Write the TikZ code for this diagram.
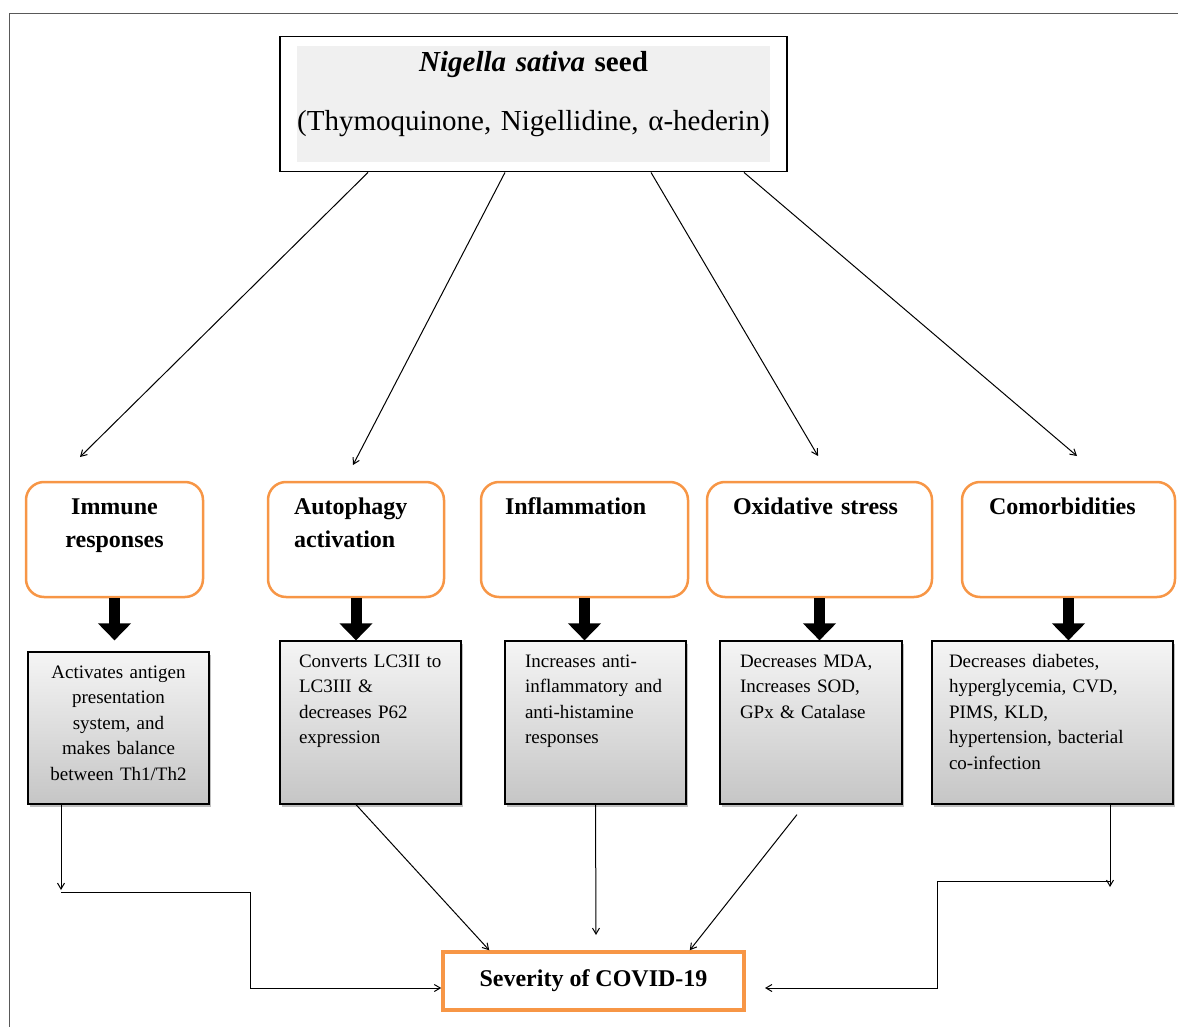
\documentclass[tikz,border=0pt]{standalone}
\usepackage{fontspec}
\setmainfont{Liberation Serif}
\usetikzlibrary{arrows.meta,shadows,fit}
\definecolor{boxorange}{RGB}{247,150,70}

\begin{document}
\begin{tikzpicture}[x=1pt,y=-1pt]
\tikzstyle{every node}=[inner sep=0pt]
\tikzstyle{target}=[draw=boxorange,line width=2.5pt,rounded corners=18pt,
	font=\bfseries\fontsize{24}{33}\selectfont,inner ysep=15pt,
	text height=17pt,text depth=68pt,align=left]
\tikzstyle{effect}=[draw,line width=1.2pt,top color=gray!8,bottom color=gray!45,
	drop shadow={shadow xshift=1.5pt,shadow yshift=-2.5pt},
	font=\fontsize{19}{25.5}\selectfont,inner ysep=12pt,text height=14pt,
	text depth=125pt,align=left]
\tikzstyle{link}=[line width=1pt,-{Straight Barb[length=6pt,width=7pt]}]
\tikzstyle{block}=[line width=11pt,-{Triangle[length=17pt,width=32pt]}]
\useasboundingbox (0,0) rectangle (1178,1027);
\draw[line width=1pt,gray!70!black] (9,1027) -- (9,14) -- (1178,14);

\node[fill=gray!12,text width=473pt,align=center,inner ysep=6pt,
	text height=20pt,text depth=84pt,font=\fontsize{29}{59}\selectfont]
	(seed) at (533.5,104) {\textbf{\textit{Nigella sativa} seed}\\
	(Thymoquinone, Nigellidine, α-hederin)};
\node[fit=(seed),inner xsep=17pt,inner ysep=9.5pt,draw,line width=1.5pt] (seedbox) {};

\node[target,inner xsep=10pt,text width=157pt,align=center] (imm) at (114.5,539.5)
	{Immune\\ responses};
\node[target,inner xsep=26pt,text width=124pt] (aut) at (356,539.5)
	{Autophagy\\ activation};
\node[target,inner xsep=24pt,text width=159pt] (inf) at (584.5,539.5)
	{Inflammation};
\node[target,inner xsep=26pt,text width=173pt] (oxi) at (819.5,539.5)
	{Oxidative stress};
\node[target,inner xsep=27pt,text width=159pt] (com) at (1068.5,539.5)
	{Comorbidities};

\node[effect,inner xsep=10pt,text width=161pt,text depth=114pt,align=center]
	(immeff) at (118.5,728) {Activates antigen\\ presentation\\ system, and\\
	makes balance\\ between Th1/Th2};
\node[effect,inner xsep=19pt,text width=143pt] (auteff) at (370.5,722.5)
	{Converts LC3II to\\ LC3III \&\\ decreases P62\\ expression};
\node[effect,inner xsep=20pt,text width=141pt] (infeff) at (595.5,722.5)
	{Increases anti-\\ inflammatory and\\ anti-histamine\\ responses};
\node[effect,inner xsep=20pt,text width=142pt] (oxieff) at (811,722.5)
	{Decreases MDA,\\ Increases SOD,\\ GPx \& Catalase};
\node[effect,inner xsep=17pt,text width=207pt] (comeff) at (1052.5,722.5)
	{Decreases diabetes,\\ hyperglycemia, CVD,\\ PIMS, KLD,\\
	hypertension, bacterial\\ co-infection};

\node[draw=boxorange,line width=3.5pt,minimum width=301pt,minimum height=58pt,
	font=\bfseries\fontsize{24}{29}\selectfont] (sev) at (593.5,981)
	{Severity of COVID-19};

\coordinate (immtip) at (80,457);
\coordinate (auttip) at (353,465);
\coordinate (oxitip) at (818,456);
\coordinate (comtip) at (1077,456);
\draw[link] ([xshift=-165.5pt]seedbox.south) -- (immtip);
\draw[link] ([xshift=-28.5pt]seedbox.south) -- (auttip);
\draw[link] ([xshift=117.5pt]seedbox.south) -- (oxitip);
\draw[link] ([xshift=210.5pt]seedbox.south) -- (comtip);

\draw[block,shorten >=11pt] (imm.south) -- (imm.south |- immeff.north);
\draw[block] (aut.south) -- (aut.south |- auteff.north);
\draw[block] (inf.south) -- (inf.south |- infeff.north);
\draw[block] (oxi.south) -- (oxi.south |- oxieff.north);
\draw[block] (com.south) -- (com.south |- comeff.north);

\coordinate (lefttip) at (61,890);
\coordinate (leftstart) at (61,892);
\coordinate (leftbend) at (250,988);
\coordinate (midtip) at (596,935);
\coordinate (righttip) at (1110,887);
\coordinate (rightstart) at (1110,881);
\coordinate (rightbend) at (937,988);
\coordinate (rightend) at (765,988);
\draw[link] ([xshift=-57.5pt]immeff.south) -- (lefttip);
\draw[link] (leftstart) -| (leftbend) -- ([yshift=-7pt]sev.west);
\draw[link] ([xshift=-14.5pt]auteff.south) -- ([xshift=48pt]sev.north west);
\draw[link] (infeff.south) -- (midtip);
\draw[link] ([xshift=-14pt,yshift=-10pt]oxieff.south) -- ([xshift=-56pt]sev.north east);
\draw[link] ([xshift=57.5pt]comeff.south) -- (righttip);
\draw[link] (rightstart) -| (rightbend) -- (rightend);
\end{tikzpicture}
\end{document}
